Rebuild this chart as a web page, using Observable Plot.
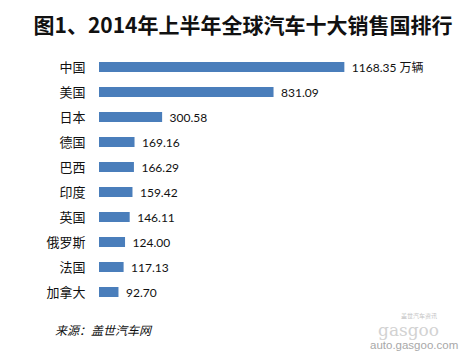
<!DOCTYPE html>
<html>
<head>
<meta charset="utf-8">
<script src="https://cdn.jsdelivr.net/npm/d3@7"></script>
<script src="https://cdn.jsdelivr.net/npm/@observablehq/plot@0.6"></script>
<style>
  html, body { margin: 0; padding: 0; background: #fff; }
  body { width: 463px; height: 354px; position: relative; overflow: hidden; font-family: "Noto Sans CJK SC", sans-serif; }
  #title { position: absolute; left: 0; top: 0; width: 486px; height: 48px; line-height: 48px; text-align: center; font-size: 21px; font-weight: bold; color: #111; }
  #chart { position: absolute; left: 0; top: 38px; }
  #source { position: absolute; left: 55px; top: 321px; font-size: 12px; font-style: italic; color: #111; }
  .wm { position: absolute; color: #b8b8b8; white-space: nowrap; line-height: 1; }
</style>
</head>
<body>
<div id="title">图1、2014年上半年全球汽车十大销售国排行</div>
<div id="chart"></div>
<div id="source">来源：盖世汽车网</div>
<div class="wm" style="left:401px;top:313px;font-size:6px;color:#c4c4c4;">盖世汽车资讯</div>
<div class="wm" style="left:378px;top:322px;font-size:17px;font-family:'DejaVu Serif',serif;color:#d2d2d2;">gasgoo</div>
<div class="wm" style="left:370px;top:340px;font-size:11.5px;font-family:'Liberation Sans',sans-serif;color:#a8a8a8;">auto.gasgoo.com</div>
<script>
const countries = ["中国", "美国", "日本", "德国", "巴西", "印度", "英国", "俄罗斯", "法国", "加拿大"];
const sales = [1168.35, 831.09, 300.58, 169.16, 166.29, 159.42, 146.11, 124.00, 117.13, 92.70];
const valueLabels = ["1168.35 万辆", "831.09", "300.58", "169.16", "166.29", "159.42", "146.11", "124.00", "117.13", "92.70"];

const data = countries.map((c, i) => ({country: c, value: sales[i], label: valueLabels[i]}));

const chart = Plot.plot({
  width: 463,
  height: 282,
  marginTop: 13,
  marginBottom: 13,
  marginLeft: 99,
  marginRight: 70,
  style: {fontFamily: "'Noto Sans CJK SC', sans-serif", background: "transparent"},
  x: {domain: [0, 1400], axis: null},
  y: {domain: countries, paddingInner: 0.6, paddingOuter: 0.3, label: null, tickSize: 0, tickPadding: 14},
  marks: [
    Plot.barX(data, {y: "country", x: "value", fill: "#4a7ebb"}),
    Plot.axisY({tickSize: 0, tickPadding: 14, fontSize: 13, fill: "#111", label: null}),
    Plot.text(data, {y: "country", x: "value", text: "label", textAnchor: "start", dx: 7, dy: 1, fontSize: 12, fill: "#111", fontFamily: "Lato, 'Noto Sans CJK SC', sans-serif"})
  ]
});
document.getElementById("chart").appendChild(chart);
</script>
</body>
</html>
